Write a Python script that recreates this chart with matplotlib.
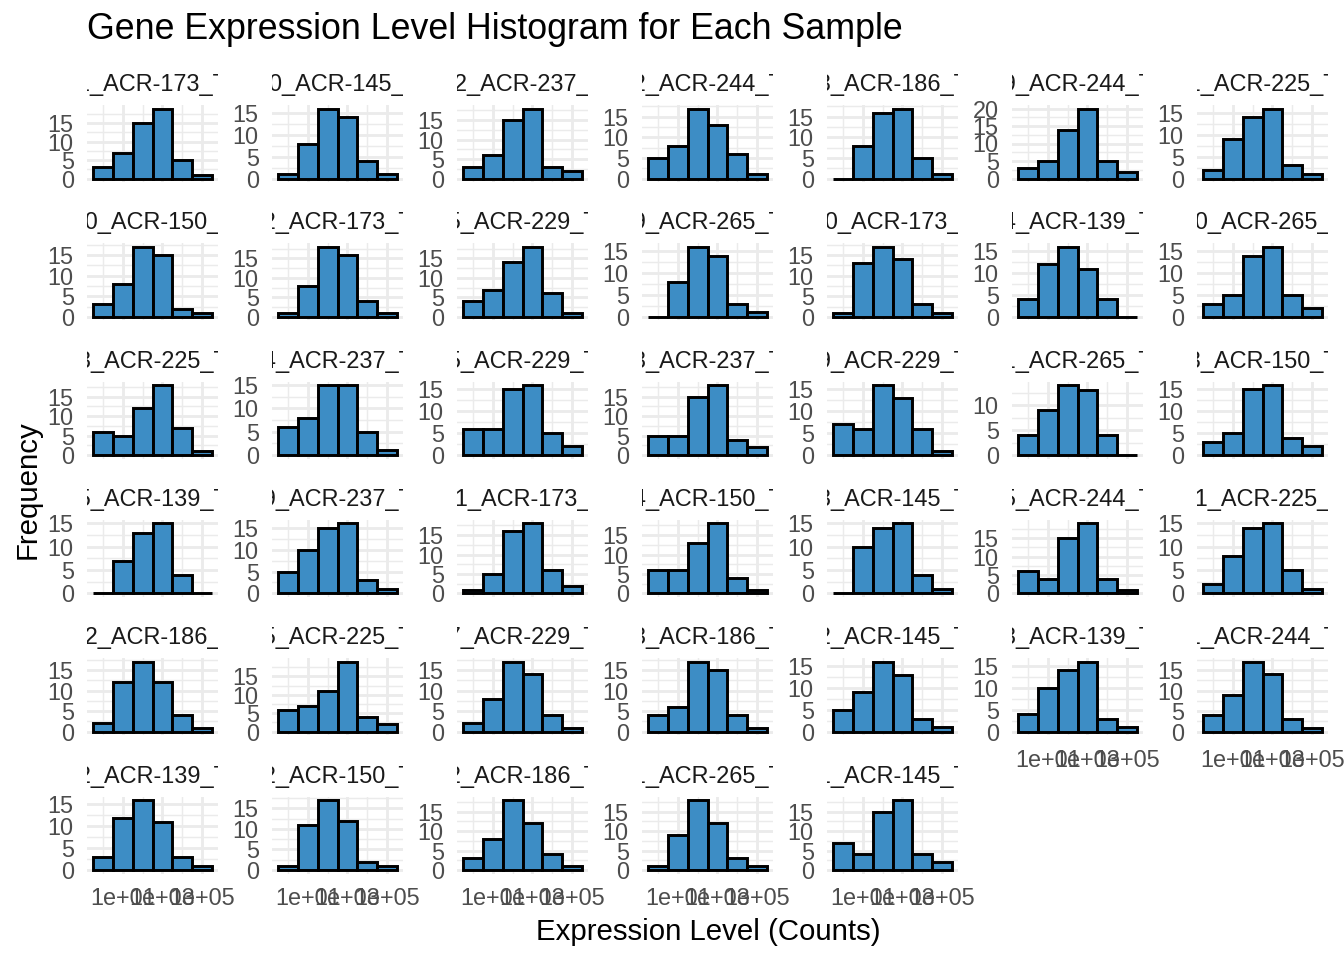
import numpy as np
import matplotlib
matplotlib.use("Agg")
import matplotlib.pyplot as plt
from matplotlib.ticker import FixedLocator, FuncFormatter, MultipleLocator
from matplotlib.transforms import Bbox, TransformedBbox

plt.rcParams["font.family"] = ["Liberation Sans", "DejaVu Sans"]

# facet labels (they are wider than the strip, so only the middle shows)
panel_labels = [
    "S11_ACR-173_T01", "S110_ACR-145_T01", "S112_ACR-237_T01", "S12_ACR-244_T01",
    "S13_ACR-186_T01", "S19_ACR-244_T01", "S21_ACR-225_T01",
    "S120_ACR-150_T01", "S22_ACR-173_T01", "S25_ACR-229_T01", "S29_ACR-265_T01",
    "S130_ACR-173_T01", "S34_ACR-139_T01", "S140_ACR-265_T01",
    "S33_ACR-225_T01", "S34_ACR-237_T01", "S35_ACR-229_T01", "S43_ACR-237_T01",
    "S49_ACR-229_T01", "S51_ACR-265_T01", "S53_ACR-150_T01",
    "S55_ACR-139_T01", "S59_ACR-237_T01", "S161_ACR-173_T01", "S64_ACR-150_T01",
    "S63_ACR-145_T01", "S65_ACR-244_T01", "S171_ACR-225_T01",
    "S172_ACR-186_T01", "S75_ACR-225_T01", "S77_ACR-229_T01", "S83_ACR-186_T01",
    "S82_ACR-145_T01", "S83_ACR-139_T01", "S91_ACR-244_T01",
    "S92_ACR-139_T01", "S92_ACR-150_T01", "S92_ACR-186_T01", "S91_ACR-265_T01",
    "S91_ACR-145_T01",
]

# histogram counts per sample, bins of one decade centred on 1e0 ... 1e5
panel_counts = [
    [3, 7, 15, 19, 5, 1], [1, 8, 16, 14, 4, 1], [3, 6, 15, 18, 3, 2], [5, 8, 17, 13, 6, 1],
    [0, 8, 16, 17, 5, 1], [3, 5, 14, 20, 5, 2], [2, 9, 14, 16, 3, 1],
    [3, 8, 17, 15, 2, 1], [1, 8, 18, 16, 4, 1], [4, 7, 14, 18, 6, 1], [0, 8, 16, 14, 3, 1],
    [1, 13, 17, 14, 3, 1], [4, 12, 16, 11, 4, 0], [3, 5, 14, 16, 5, 2],
    [6, 5, 12, 18, 7, 1], [6, 8, 15, 15, 5, 1], [6, 6, 15, 16, 5, 2], [5, 5, 15, 18, 4, 2],
    [7, 6, 16, 13, 6, 1], [4, 9, 14, 13, 4, 0], [3, 5, 15, 16, 4, 2],
    [0, 7, 13, 15, 4, 0], [5, 10, 15, 16, 3, 1], [1, 5, 16, 18, 6, 2], [6, 6, 13, 18, 4, 1],
    [0, 10, 14, 15, 4, 1], [6, 4, 15, 19, 4, 1], [2, 8, 14, 15, 5, 1],
    [2, 12, 17, 12, 4, 1], [6, 7, 11, 19, 4, 2], [2, 8, 17, 14, 4, 1], [4, 6, 17, 15, 4, 1],
    [5, 9, 16, 13, 3, 1], [4, 10, 14, 16, 3, 1], [4, 9, 17, 14, 3, 1],
    [3, 12, 16, 11, 3, 1], [1, 11, 17, 12, 2, 1], [3, 8, 18, 12, 4, 1], [1, 9, 18, 12, 3, 1],
    [7, 4, 15, 18, 4, 2],
]

bin_edges = [10 ** -0.5, 10 ** 0.5, 10 ** 1.5, 10 ** 2.5, 10 ** 3.5, 10 ** 4.5, 10 ** 5.5]
x_breaks = [1e1, 1e3, 1e5]
x_minor = [1e0, 1e2, 1e4]

fill = "#3D8DC5"
grid_col = "#EBEBEB"
text_col = "#4D4D4D"

W, H = 1344, 960
fig = plt.figure(figsize=(7, 5), dpi=192)

ncol = 7
n = len(panel_counts)
pw, ph = 131, 77

for i in range(n):
    r, c = divmod(i, ncol)
    left = 87 + 185 * c
    top = 105 + 138.3 * r
    ax = fig.add_axes([left / W, 1 - (top + ph) / H, pw / W, ph / H])

    counts = panel_counts[i]
    ax.hist(bin_edges[:-1], bins=bin_edges, weights=counts, color=fill,
            edgecolor="black", linewidth=1.1, zorder=3)

    ax.set_xscale("log")
    ax.set_xlim(10 ** -0.8, 10 ** 5.8)
    m = max(counts)
    ax.set_ylim(-0.05 * m, 1.05 * m)

    ax.xaxis.set_major_locator(FixedLocator(x_breaks))
    ax.xaxis.set_minor_locator(FixedLocator(x_minor))
    ax.xaxis.set_major_formatter(FuncFormatter(lambda v, p: f"{v:.0e}"))
    ax.xaxis.set_minor_formatter(FuncFormatter(lambda v, p: ""))
    ax.yaxis.set_major_locator(MultipleLocator(5))
    ax.yaxis.set_minor_locator(MultipleLocator(2.5))

    ax.grid(which="major", color=grid_col, linewidth=1.07)
    ax.grid(which="minor", color=grid_col, linewidth=0.53)
    ax.set_axisbelow(True)
    for s in ax.spines.values():
        s.set_visible(False)

    ax.tick_params(which="both", length=0, labelsize=8.8, labelcolor=text_col, pad=5)

    # x labels only on the lowest panel of each column
    if i + ncol < n:
        ax.tick_params(axis="x", labelbottom=False)

    # strip text, clipped to the strip like ggplot does
    t = fig.text(0.5, 1 + 14 / ph, panel_labels[i], transform=ax.transAxes,
                 ha="center", va="baseline", fontsize=8.8, color="#1A1A1A")
    t.set_clip_box(TransformedBbox(Bbox([[0, 1], [1, 1 + 44 / ph]]), ax.transAxes))
    t.set_clip_on(True)

fig.text(87 / W, 1 - 39 / H, "Gene Expression Level Histogram for Each Sample",
         fontsize=13.4, ha="left", va="baseline")
fig.text(708 / W, 1 - 940 / H, "Expression Level (Counts)", fontsize=11,
         ha="center", va="baseline")
fig.text(36 / W, 1 - 490 / H, "Frequency", fontsize=11, rotation=90,
         rotation_mode="anchor", ha="center", va="baseline")

fig.savefig("out.png", dpi=192)
